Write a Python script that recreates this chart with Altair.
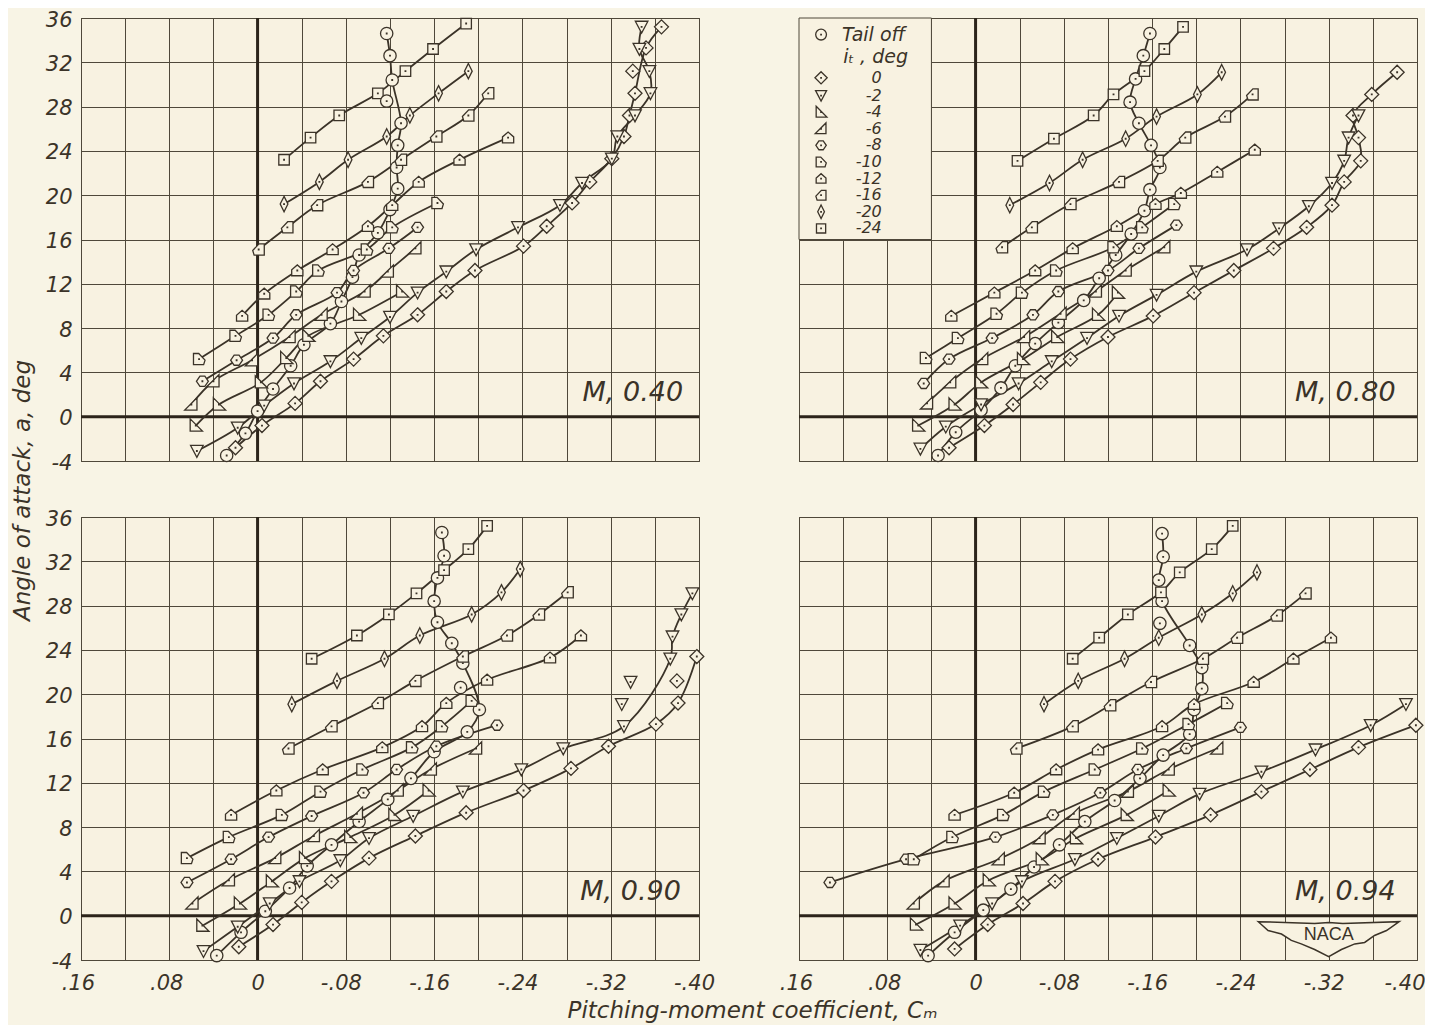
import altair as alt
import pandas as pd

PAPER = "#f8f2e1"
OUTER = "#f8f4e5"
INK = "#3b3328"
GRID = "#4f483a"
FONT = "DejaVu Sans"

# Values: (Cm, angle of attack)
M40_TAIL = [(.028,-3.5),(.011,-1.5),(0,.5),(-.014,2.5),(-.030,4.6),(-.042,6.5),(-.066,8.4),(-.076,10.4),(-.086,12.6),(-.092,14.6),(-.109,16.6),(-.120,18.7),(-.127,20.6),(-.126,22.5),(-.127,24.5),(-.130,26.5),(-.122,30.4),(-.120,32.6),(-.117,34.6)]
M40_0 = [(.020,-2.8),(-.004,-.8),(-.034,1.2),(-.057,3.2),(-.087,5.2),(-.114,7.3),(-.145,9.2),(-.171,11.3),(-.197,13.2),(-.241,15.4),(-.262,17.2),(-.285,19.3),(-.301,21.2),(-.321,23.3),(-.332,25.3),(-.337,27.2),(-.342,29.2),(-.352,33.3),(-.366,35.2)]
M40_2 = [(.055,-3.1),(.018,-1.0),(-.006,1.0),(-.033,3.0),(-.066,5.0),(-.094,7.1),(-.120,9.0),(-.145,11.2),(-.171,13.1),(-.198,15.1),(-.236,17.1),(-.274,19.1),(-.294,21.1),(-.321,23.3),(-.326,25.3),(-.342,27.2),(-.356,29.2),(-.355,31.2),(-.346,33.2),(-.348,35.2)]
M40_4 = [(.056,-.8),(.035,1.1),(-.003,3.1),(-.026,5.3),(-.046,7.3),(-.092,9.2),(-.131,11.3)]
M40_6 = [(.060,1.1),(.040,3.2),(.005,5.1),(-.029,7.2),(-.058,9.2),(-.097,11.3),(-.118,13.1),(-.143,15.2)]
M40_8 = [(.050,3.2),(.019,5.1),(-.014,7.1),(-.035,9.2),(-.072,11.2),(-.087,13.2),(-.119,15.2),(-.145,17.1)]
M40_10 = [(.053,5.2),(.020,7.3),(-.010,9.2),(-.035,11.3),(-.055,13.2),(-.099,15.1),(-.122,17.1),(-.163,19.3)]
M40_12 = [(.014,9.1),(-.006,11.1),(-.036,13.2),(-.068,15.1),(-.100,17.2),(-.122,19.1),(-.146,21.2),(-.183,23.2),(-.227,25.2)]
M40_16 = [(-.001,15.1),(-.027,17.1),(-.054,19.1),(-.100,21.2),(-.130,23.2),(-.162,25.3),(-.191,27.2),(-.209,29.2)]
M40_20 = [(-.024,19.2),(-.056,21.2),(-.082,23.2),(-.117,25.3),(-.138,27.2),(-.164,29.2),(-.191,31.2)]
M40_24 = [(-.024,23.2),(-.048,25.2),(-.074,27.2),(-.109,29.2),(-.134,31.2),(-.159,33.2),(-.189,35.5)]
M40_OFF = [("Tail off",-.117,28.5),("0",-.340,31.2)]

M80_TAIL = [(.034,-3.5),(.018,-1.4),(-.005,.6),(-.023,2.6),(-.036,4.6),(-.054,6.6),(-.075,8.5),(-.098,10.5),(-.112,12.5),(-.127,14.6),(-.141,16.5),(-.153,18.6),(-.158,20.5),(-.167,22.5),(-.159,24.5),(-.148,26.5),(-.140,28.4),(-.145,30.5),(-.152,32.6),(-.158,34.6)]
M80_0 = [(.024,-2.8),(-.008,-.8),(-.034,1.1),(-.059,3.1),(-.086,5.2),(-.120,7.2),(-.161,9.1),(-.198,11.2),(-.234,13.2),(-.270,15.2),(-.300,17.1),(-.323,19.1),(-.334,21.2),(-.349,23.1),(-.347,25.2),(-.342,27.2),(-.359,29.1),(-.382,31.1)]
M80_2 = [(.050,-2.9),(.027,-.9),(-.005,1.1),(-.039,3.0),(-.069,5.0),(-.101,7.1),(-.130,9.1),(-.164,11.0),(-.200,13.1),(-.246,15.1),(-.275,17.0),(-.302,19.0),(-.323,21.1),(-.334,23.1),(-.338,25.2),(-.347,27.2)]
M80_4 = [(.052,-.8),(.019,1.1),(-.005,3.1),(-.043,5.2),(-.074,7.2),(-.111,9.2),(-.129,11.2)]
M80_6 = [(.044,1.2),(.023,3.1),(-.006,5.2),(-.044,7.2),(-.077,9.3),(-.109,11.3),(-.136,13.2),(-.171,15.3)]
M80_8 = [(.047,3.0),(.024,5.2),(-.015,7.1),(-.052,9.2),(-.075,11.3),(-.120,13.2),(-.148,15.2),(-.182,17.3)]
M80_10 = [(.045,5.3),(.016,7.1),(-.019,9.3),(-.042,11.2),(-.073,13.2),(-.125,15.3),(-.151,17.1),(-.180,19.2)]
M80_12 = [(.022,9.1),(-.017,11.2),(-.054,13.2),(-.088,15.2),(-.128,17.2),(-.163,19.2),(-.186,20.2),(-.219,22.1),(-.253,24.1)]
M80_16 = [(-.024,15.3),(-.051,17.1),(-.086,19.2),(-.130,21.2),(-.165,23.1),(-.190,25.2),(-.226,27.1),(-.251,29.1)]
M80_20 = [(-.031,19.1),(-.067,21.1),(-.097,23.2),(-.136,25.1),(-.164,27.1),(-.201,29.1),(-.223,31.1)]
M80_24 = [(-.038,23.1),(-.071,25.1),(-.107,27.2),(-.125,29.1),(-.153,31.2),(-.171,33.2),(-.188,35.2)]
M80_OFF = []

M90_TAIL = [(.037,-3.6),(.015,-1.5),(-.007,.4),(-.029,2.5),(-.045,4.5),(-.067,6.4),(-.092,8.5),(-.118,10.5),(-.139,12.4),(-.160,14.8),(-.190,16.6),(-.201,18.6),(-.186,22.8),(-.176,24.6),(-.163,26.5),(-.160,28.4),(-.163,30.5),(-.169,32.5),(-.167,34.6)]
M90_0 = [(.017,-2.8),(-.014,-.8),(-.040,1.2),(-.067,3.1),(-.101,5.2),(-.143,7.2),(-.189,9.3),(-.241,11.3),(-.284,13.3),(-.318,15.3),(-.361,17.3),(-.381,19.2),(-.398,23.4)]
M90_2 = [(.049,-3.2),(.018,-1.0),(-.011,1.1),(-.038,3.1),(-.075,5.0),(-.101,7.0),(-.141,9.0),(-.186,11.2),(-.239,13.2),(-.277,15.1),(-.332,17.1),(-.374,23.2),(-.376,25.2),(-.384,27.2),(-.394,29.1)]
M90_4 = [(.050,-.9),(.016,1.1),(-.013,3.1),(-.043,5.2),(-.084,7.1),(-.124,9.1),(-.155,11.3)]
M90_6 = [(.059,1.1),(.026,3.2),(-.016,5.2),(-.051,7.2),(-.090,9.2),(-.127,11.3),(-.157,13.2),(-.198,15.1)]
M90_8 = [(.064,3.0),(.024,5.1),(-.010,7.1),(-.049,9.0),(-.096,11.1),(-.126,13.2),(-.162,15.3),(-.217,17.2)]
M90_10 = [(.064,5.2),(.026,7.1),(-.022,9.1),(-.057,11.2),(-.095,13.2),(-.140,15.2),(-.167,17.1),(-.194,19.4)]
M90_12 = [(.024,9.1),(-.017,11.3),(-.059,13.2),(-.113,15.2),(-.149,17.1),(-.171,19.2),(-.208,21.3),(-.265,23.3),(-.293,25.3)]
M90_16 = [(-.028,15.1),(-.067,17.1),(-.109,19.2),(-.143,21.2),(-.186,23.4),(-.226,25.3),(-.255,27.2),(-.281,29.2)]
M90_20 = [(-.031,19.1),(-.072,21.2),(-.115,23.2),(-.147,25.3),(-.194,27.2),(-.221,29.2),(-.238,31.3)]
M90_24 = [(-.049,23.2),(-.090,25.3),(-.119,27.2),(-.144,29.1),(-.169,31.2),(-.191,33.1),(-.208,35.2)]
M90_OFF = [("Tail off",-.184,20.6),("0",-.380,21.2),("-2",-.330,19.1),("-2",-.338,21.1)]

M94_TAIL = [(.043,-3.6),(.019,-1.5),(-.007,.5),(-.032,2.4),(-.053,4.4),(-.076,6.4),(-.099,8.5),(-.126,10.4),(-.149,12.4),(-.170,14.5),(-.194,16.4),(-.198,18.6),(-.205,20.5),(-.205,22.4),(-.194,24.4),(-.169,28.4),(-.166,30.3),(-.170,32.4),(-.169,34.5)]
M94_0 = [(.019,-3.0),(-.011,-.8),(-.043,1.1),(-.072,3.1),(-.111,5.1),(-.163,7.1),(-.213,9.1),(-.259,11.2),(-.303,13.2),(-.347,15.2),(-.399,17.2)]
M94_2 = [(.050,-3.1),(.014,-.9),(-.015,1.1),(-.042,3.1),(-.090,5.1),(-.128,7.0),(-.166,9.0),(-.203,11.0),(-.259,13.0),(-.308,15.0),(-.358,17.2),(-.390,19.1)]
M94_4 = [(.054,-.8),(.019,1.1),(-.012,3.2),(-.060,5.1),(-.091,7.0),(-.137,9.1),(-.175,11.3)]
M94_6 = [(.056,1.1),(.029,3.1),(-.021,5.1),(-.058,7.0),(-.089,9.2),(-.138,11.2),(-.175,13.2),(-.219,15.1)]
M94_8 = [(.132,3.0),(.063,5.1),(-.018,7.1),(-.070,9.1),(-.113,11.1),(-.147,13.2),(-.191,15.1),(-.240,17.0)]
M94_10 = [(.056,5.1),(.021,7.1),(-.025,9.1),(-.062,11.2),(-.108,13.2),(-.151,15.1),(-.193,17.3),(-.228,19.2)]
M94_12 = [(.019,9.1),(-.035,11.1),(-.073,13.2),(-.111,15.0),(-.169,17.1),(-.198,19.1),(-.252,21.1),(-.288,23.2),(-.322,25.1)]
M94_16 = [(-.037,15.1),(-.088,17.1),(-.122,19.0),(-.159,21.1),(-.206,23.2),(-.237,25.1),(-.273,27.1),(-.299,29.1)]
M94_20 = [(-.062,19.1),(-.093,21.2),(-.135,23.2),(-.166,25.1),(-.205,27.2),(-.233,29.1),(-.255,31.0)]
M94_24 = [(-.088,23.2),(-.112,25.1),(-.138,27.2),(-.168,29.2),(-.185,31.0),(-.214,33.1),(-.233,35.2)]
M94_OFF = [("Tail off",-.167,26.4)]

SERIES_NAMES = ["Tail off", "0", "-2", "-4", "-6", "-8", "-10", "-12", "-16", "-20", "-24"]
PANEL_SERIES = {
    "M, 0.40": [M40_TAIL, M40_0, M40_2, M40_4, M40_6, M40_8, M40_10, M40_12, M40_16, M40_20, M40_24],
    "M, 0.80": [M80_TAIL, M80_0, M80_2, M80_4, M80_6, M80_8, M80_10, M80_12, M80_16, M80_20, M80_24],
    "M, 0.90": [M90_TAIL, M90_0, M90_2, M90_4, M90_6, M90_8, M90_10, M90_12, M90_16, M90_20, M90_24],
    "M, 0.94": [M94_TAIL, M94_0, M94_2, M94_4, M94_6, M94_8, M94_10, M94_12, M94_16, M94_20, M94_24],
}
PANEL_OFF = {"M, 0.40": M40_OFF, "M, 0.80": M80_OFF, "M, 0.90": M90_OFF, "M, 0.94": M94_OFF}
LABEL_CM = {"M, 0.40": -.340, "M, 0.80": -.335, "M, 0.90": -.338, "M, 0.94": -.335}
LABEL_ALPHA = 2.1

X_TICKS = [.16, .12, .08, .04, 0, -.04, -.08, -.12, -.16, -.20, -.24, -.28, -.32, -.36, -.40]
Y_TICKS = [-4, 0, 4, 8, 12, 16, 20, 24, 28, 32, 36]

# Key inset drawn in the M 0.80 panel
KEY_NAMES = ["Tail off", "0", "-2", "-4", "-6", "-8", "-10", "-12", "-16", "-20", "-24"]
KEY_ROW_ALPHA = [34.5, 30.6, 29.0, 27.5, 26.0, 24.5, 23.0, 21.5, 20.0, 18.5, 17.0]
KEY_TITLE_ROW = ("i\u209c , deg", 32.5)

DOT = "M-.04,-.04L.04,-.04L.04,.04L-.04,.04Z"
CIRCLE = "M.88,0A.88,.88,0,1,1,-.88,0A.88,.88,0,1,1,.88,0Z"
SHAPES = {
    "Tail off": CIRCLE + DOT,
    "0": "M0,-1L1,0L0,1L-1,0Z" + DOT,
    "-2": "M-.9,-.8L.9,-.8L0,.9Z" + DOT,
    "-4": "M-.8,-.95L.95,.8L-.8,.8Z" + DOT,
    "-6": "M.8,-.95L.8,.8L-.95,.8Z" + DOT,
    "-8": "M-.35,-.72L.35,-.72L.85,0L.35,.72L-.35,.72L-.85,0Z" + DOT,
    "-10": "M-.8,-.8L-.05,-.8L.85,.15L.65,.8L-.8,.8Z" + DOT,
    "-12": "M-.8,.75L-.8,-.1L0,-.8L.8,-.1L.8,.75Z" + DOT,
    "-16": "M.8,-.8L.05,-.8L-.85,.15L-.65,.8L.8,.8Z" + DOT,
    "-20": "M0,-1.1L.55,0L0,1.1L-.55,0Z" + DOT,
    "-24": "M-.75,-.75L.75,-.75L.75,.75L-.75,.75Z" + DOT,
}
WING = ("M-1,-.245L-.2,-.22L0,-.235L.2,-.22L1,-.245L.82,-.12L.65,-.05L.51,.05L.37,.07L.18,.15L0,.25"
        "L-.2,.15L-.39,.07L-.53,.02L-.67,-.07L-.86,-.12Z")

X_EXPR = ("datum.value==0?'0':(round(abs(datum.value)*100)%8==0?(datum.value<0?'-':'')+'.'+"
          "format(round(abs(datum.value)*100),'02d'):'')")


def make_panel(name, show_x, show_y):
    rows = []
    for series, pts in zip(SERIES_NAMES, PANEL_SERIES[name]):
        for i, (c, a) in enumerate(pts):
            rows.append({"series": series, "i": i, "cm": c, "alpha": a, "on": True})
    for series, c, a in PANEL_OFF[name]:
        rows.append({"series": series, "i": 99, "cm": c, "alpha": a, "on": False})
    df = pd.DataFrame(rows)

    x_scale = alt.Scale(domain=[.16, -.40], nice=False, zero=False)
    y_scale = alt.Scale(domain=[-4, 36], nice=False, zero=False)
    shape_scale = alt.Scale(domain=list(SHAPES.keys()), range=list(SHAPES.values()))
    offsets = [{"test": "datum.value == 0", "value": 0}, {"test": "datum.value > 0", "value": -3}]
    x_axis = dict(values=X_TICKS, grid=True, gridColor=GRID, gridWidth=1, gridOpacity=1, domain=False, ticks=False,
                  labels=show_x, labelExpr=X_EXPR, labelFont=FONT, labelFontStyle="italic", labelFontSize=21,
                  labelColor=INK, labelPadding=12, labelOverlap=False, labelFlush=False, title=None,
                  labelOffset={"condition": offsets, "value": -5})
    y_axis = dict(values=Y_TICKS, grid=True, gridColor=GRID, gridWidth=1, gridOpacity=1, domain=False, ticks=False,
                  labels=show_y, labelExpr="''+datum.value", labelFont=FONT, labelFontStyle="italic", labelFontSize=21,
                  labelColor=INK, labelPadding=9, labelOffset=2, labelOverlap=False, labelFlush=False, title=None)
    if name == "M, 0.94":
        x_axis["labelAlign"] = {"condition": {"test": "datum.value < -0.39", "value": "right"}, "value": "center"}
        x_axis["labelOffset"] = {"condition": offsets + [{"test": "datum.value < -0.39", "value": 8}], "value": -5}
    if name == "M, 0.40":
        y_axis.update(title="Angle of attack, a, deg", titleFont=FONT, titleFontStyle="italic", titleFontSize=23,
                      titleFontWeight="normal", titleColor=INK, titleX=-59, titleY=472, titleAngle=270,
                      titleAlign="center", titleBaseline="middle")
    if name == "M, 0.90":
        x_axis.update(title="Pitching-moment coefficient, C\u2098", titleFont=FONT, titleFontStyle="italic",
                      titleFontSize=23, titleFontWeight="normal", titleColor=INK, titleX=671, titleY=50,
                      titleAlign="center", titleBaseline="middle")

    x = alt.X("cm:Q", scale=x_scale, axis=alt.Axis(**x_axis))
    y = alt.Y("alpha:Q", scale=y_scale, axis=alt.Axis(**y_axis))

    zero_v = alt.Chart(pd.DataFrame({"cm": [0]})).mark_rule(color="#2c241a", strokeWidth=3).encode(x=x)
    zero_h = alt.Chart(pd.DataFrame({"alpha": [0]})).mark_rule(color="#2c241a", strokeWidth=3).encode(y=y)

    lines = alt.Chart(df).transform_filter("datum.on").mark_line(
        color=INK, strokeWidth=1.8, interpolate="catmull-rom", clip=True
    ).encode(x=x, y=y, detail="series:N", order="i:Q")

    marks = alt.Chart(df).mark_point(
        filled=True, fill=PAPER, stroke=INK, strokeWidth=1.3, opacity=1, size=196
    ).encode(x=x, y=y, shape=alt.Shape("series:N", scale=shape_scale, legend=None))

    label = alt.Chart(pd.DataFrame({"cm": [LABEL_CM[name]], "alpha": [LABEL_ALPHA], "t": [name]})).mark_text(
        font=FONT, fontStyle="italic", fontSize=27, color=INK
    ).encode(x=x, y=y, text="t:N")

    layers = [zero_v, zero_h, lines, marks, label]
    if name == "M, 0.80":
        box = alt.Chart(pd.DataFrame({"cm": [.16], "cm2": [.04], "alpha": [16], "alpha2": [36]})).mark_rect(
            fill=PAPER, stroke=GRID, strokeWidth=1
        ).encode(x=x, x2="cm2:Q", y=y, y2="alpha2:Q")
        key_df = pd.DataFrame({"series": KEY_NAMES, "alpha": KEY_ROW_ALPHA, "cm": .140})
        key_marks = alt.Chart(key_df).mark_point(
            filled=True, fill=PAPER, stroke=INK, strokeWidth=1.3, opacity=1, size=150
        ).encode(x=x, y=y, shape=alt.Shape("series:N", scale=shape_scale, legend=None))
        num_df = key_df[key_df.series != "Tail off"].assign(cm=.085)
        key_nums = alt.Chart(num_df).mark_text(
            font=FONT, fontStyle="italic", fontSize=16, color=INK, align="right"
        ).encode(x=x, y=y, text="series:N")
        head_df = pd.DataFrame({"cm": [.121, .120], "alpha": [KEY_ROW_ALPHA[0], KEY_TITLE_ROW[1]],
                                "t": [KEY_NAMES[0], KEY_TITLE_ROW[0]]})
        key_head = alt.Chart(head_df).mark_text(
            font=FONT, fontStyle="italic", fontSize=19, color=INK, align="left"
        ).encode(x=x, y=y, text="t:N")
        layers = [zero_v, zero_h, box, lines, marks, label, key_marks, key_nums, key_head]
    if name == "M, 0.94":
        wing = alt.Chart(pd.DataFrame({"cm": [-.320], "alpha": [-2.1]})).mark_point(
            filled=True, fill=PAPER, stroke=INK, strokeWidth=1.5, opacity=1, size=19881, shape=WING
        ).encode(x=x, y=y)
        naca = alt.Chart(pd.DataFrame({"cm": [-.320], "alpha": [-1.75], "t": ["NACA"]})).mark_text(
            font="Liberation Sans", fontSize=18, color=INK
        ).encode(x=x, y=y, text="t:N")
        layers += [wing, naca]
    return alt.layer(*layers).properties(width=618, height=443)


p1 = make_panel("M, 0.40", False, True)
p2 = make_panel("M, 0.80", False, False)
p3 = make_panel("M, 0.90", True, True)
p4 = make_panel("M, 0.94", True, False)

chart = alt.concat(p1, p2, p3, p4, columns=2, spacing={"column": 100, "row": 56}, bounds="flush").properties(
    background=OUTER,
    autosize=alt.AutoSizeParams(type="none"),
    padding={"left": 73, "top": 10, "right": 1344, "bottom": 1007},
).configure_view(fill=PAPER, stroke=INK, strokeWidth=1)

chart.save("out.html", embed_options={"renderer": "svg", "actions": False})
